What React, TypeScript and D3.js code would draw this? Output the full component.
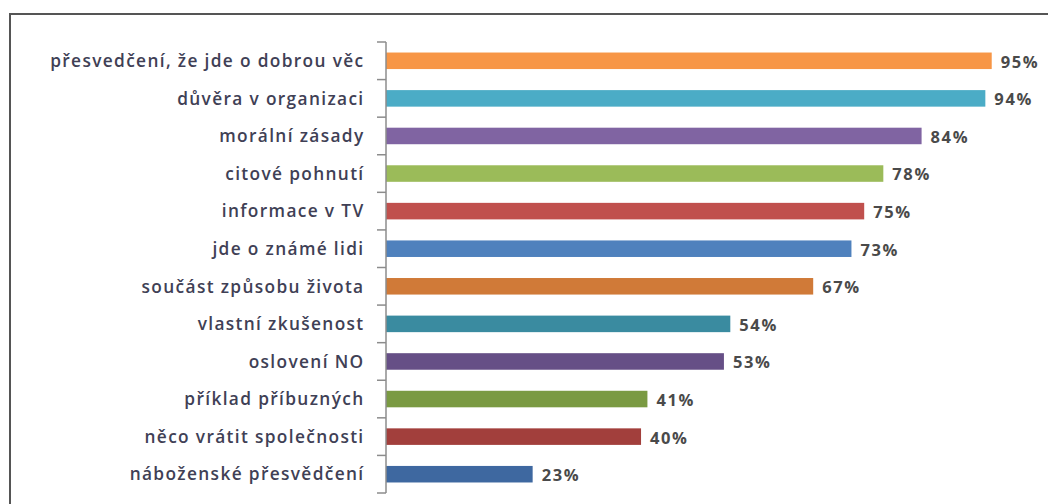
import React from "react";
import * as d3 from "d3";

const categories = [
  "přesvedčení, že jde o dobrou věc",
  "důvěra v organizaci",
  "morální zásady",
  "citové pohnutí",
  "informace v TV",
  "jde o známé lidi",
  "součást způsobu života",
  "vlastní zkušenost",
  "oslovení NO",
  "příklad příbuzných",
  "něco vrátit společnosti",
  "náboženské přesvědčení",
];
const values = [95, 94, 84, 78, 75, 73, 67, 54, 53, 41, 40, 23];
const colors = [
  "#F79646", "#4BACC6", "#8064A2", "#9BBB59", "#C0504D", "#4F81BD",
  "#D07A38", "#3A8BA0", "#664F86", "#7A9A42", "#A23F3C", "#3E68A0",
];

const W = 1048;
const H = 504;
const axisX = 386;
const top = 42;
const bottom = 493;

export default function App() {
  const x = d3.scaleLinear().domain([0, 100]).range([axisX, 1023.6]);
  const y = d3.scaleBand<string>().domain(categories).range([top, bottom]).paddingInner(0.56).paddingOuter(0.28);
  const boundaries = d3.range(categories.length + 1).map((i) => top + (i * (bottom - top)) / categories.length);
  const font = "'Open Sans', sans-serif";
  return (
    <svg width={W} height={H} style={{ position: "absolute", left: 0, top: 0, background: "#fff" }}>
      <rect x={10} y={14} width={W + 20} height={H + 20} fill="#fff" stroke="#555" strokeWidth={2} />
      {categories.map((c, i) => (
        <g key={c}>
          <rect x={x(0)} y={y(c)} width={x(values[i]) - x(0)} height={y.bandwidth()} fill={colors[i]} />
          <text
            x={364.5}
            y={(y(c) as number) + y.bandwidth() / 2}
            dy="0.36em"
            textAnchor="end"
            fontFamily={font}
            fontWeight={600}
            fontSize={17.3}
            letterSpacing={1.35}
            fill="#404055"
          >
            {c}
          </text>
          <text
            x={x(values[i]) + 9}
            y={(y(c) as number) + y.bandwidth() / 2 + 1}
            dy="0.36em"
            fontFamily={font}
            fontWeight="bold"
            fontSize={16.5}
            letterSpacing={1.6}
            fill="#4a4a4a"
          >
            {values[i]}%
          </text>
        </g>
      ))}
      <line x1={axisX} x2={axisX} y1={top} y2={bottom} stroke="#8c8c8c" strokeWidth={1.5} />
      {boundaries.map((b, i) => (
        <line key={i} x1={axisX - 9} x2={axisX} y1={b} y2={b} stroke="#8c8c8c" strokeWidth={1.5} />
      ))}
    </svg>
  );
}
